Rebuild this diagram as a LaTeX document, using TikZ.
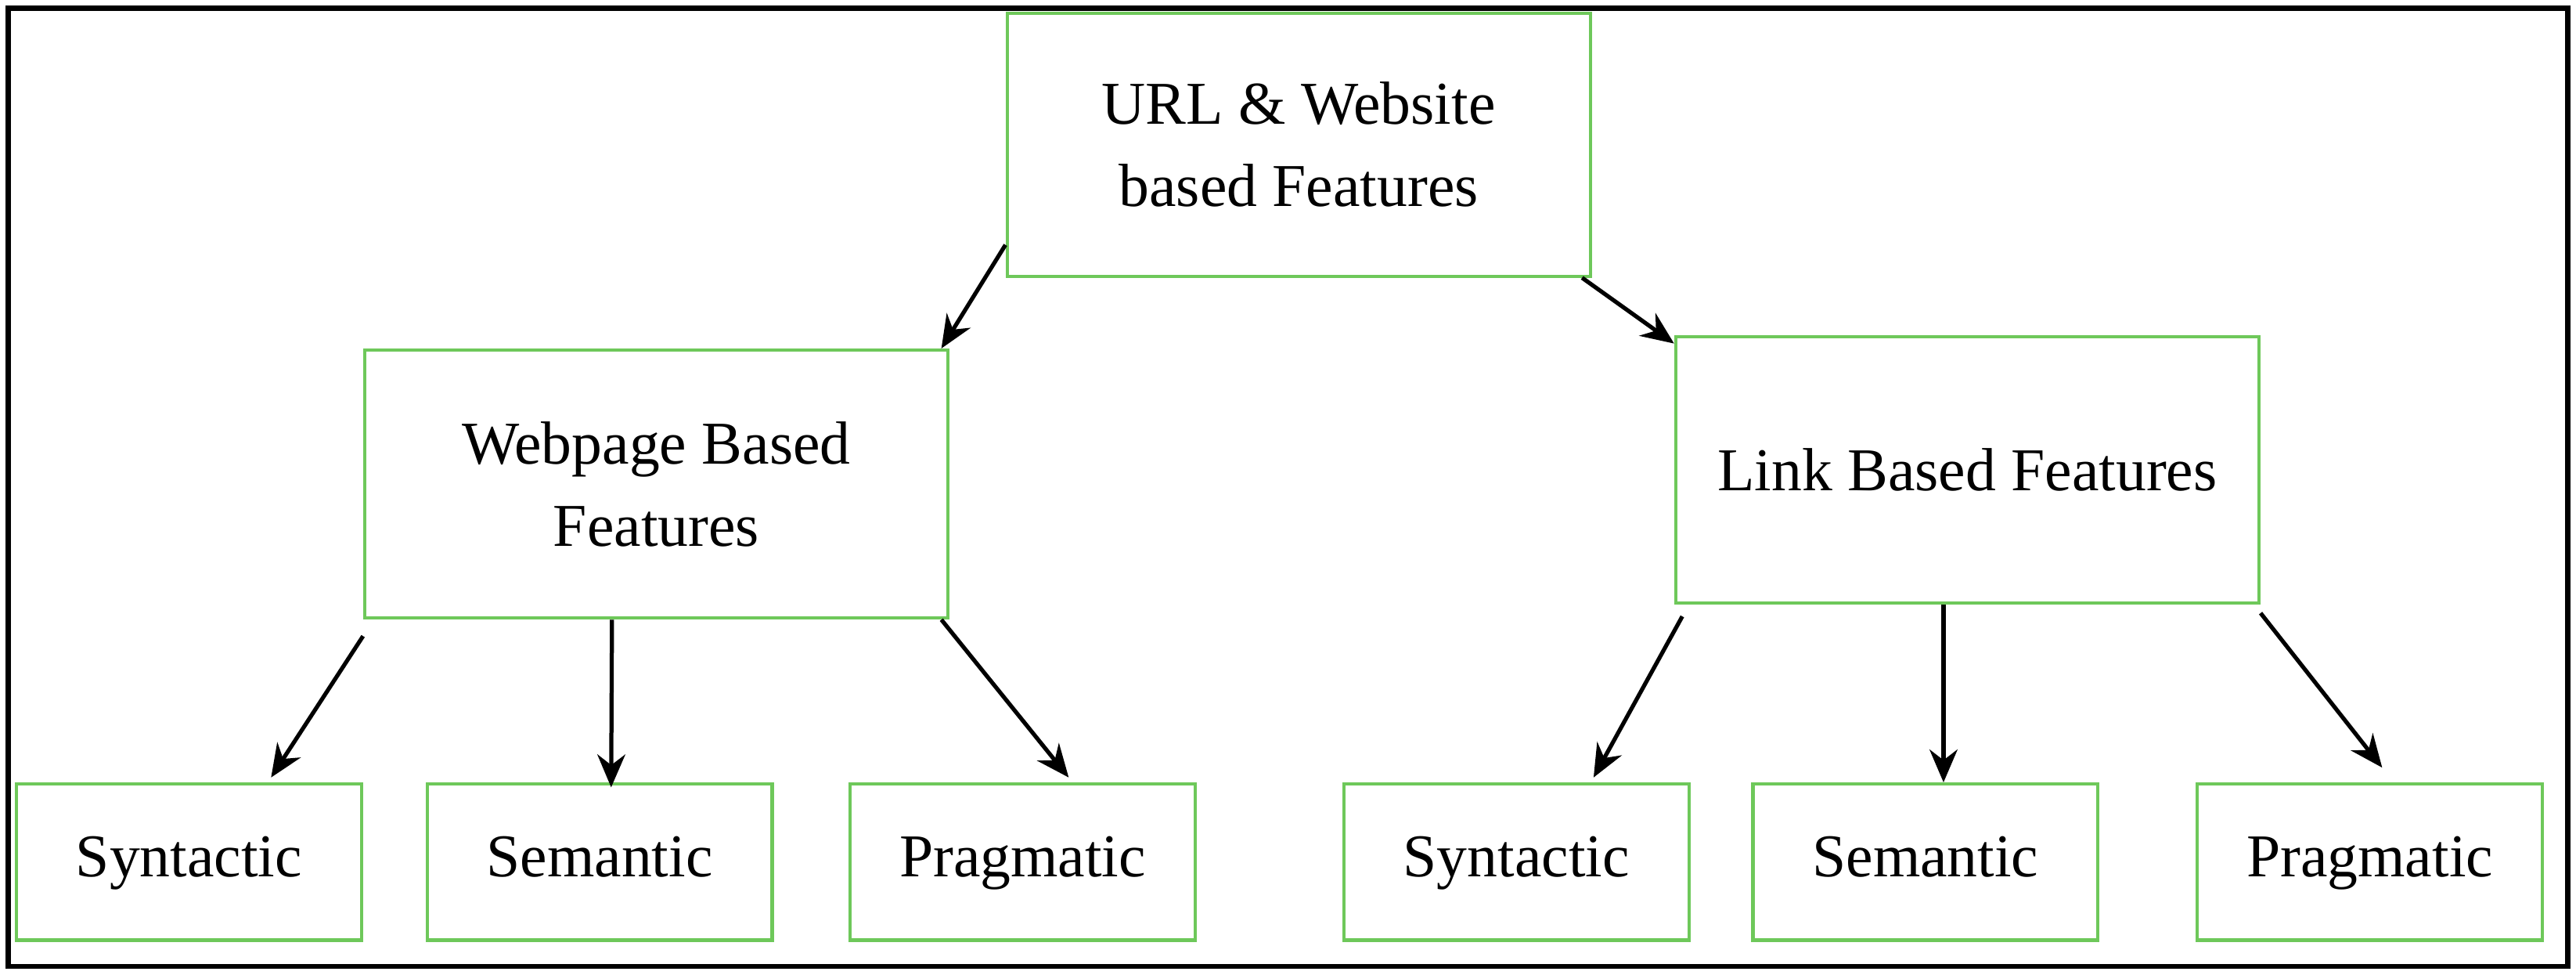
\documentclass[tikz,border=0pt]{standalone}
\usepackage{fontspec}
\setmainfont{Liberation Serif}
\usetikzlibrary{arrows.meta}
\tikzstyle{feature} = [rectangle, draw={rgb,255:red,110;green,200;blue,90}, line width=2pt, minimum width=355pt, text centered, align=center, font=\fontsize{37}{50}\selectfont]
\tikzstyle{leaf} = [rectangle, draw={rgb,255:red,110;green,200;blue,90}, line width=2pt, minimum width=210pt, minimum height=95pt, text height=27pt, text depth=9pt, text centered, font=\fontsize{37}{50}\selectfont]
\tikzstyle{arrow} = [line width=2.5pt,-{Stealth[length=20pt,width=17pt]}]

\begin{document}
\begin{tikzpicture}[x=1pt,y=-1pt]
\useasboundingbox (0,0) rectangle (1568,593);
\draw [line width=3pt] (5,5) rectangle (1563,588);

\node (top) [feature, minimum height=160pt] at (790.5,88) {URL \& Website\\based Features};
\node (web) [feature, minimum height=163pt] at (399.5,294.5) {Webpage Based\\Features};
\node (link) [feature, minimum height=162pt] at (1197.5,286) {Link Based Features};

\node (s1) [leaf] at (115,524.5) {Syntactic};
\node (m1) [leaf] at (365,524.5) {Semantic};
\node (p1) [leaf] at (622.5,524.5) {Pragmatic};
\node (s2) [leaf] at (923,524.5) {Syntactic};
\node (m2) [leaf] at (1172,524.5) {Semantic};
\node (p2) [leaf] at (1442.5,524.5) {Pragmatic};

\draw [arrow] ([yshift=20pt]top.south west) -- ([xshift=-5pt]web.north east);
\draw [arrow] ([xshift=-6pt]top.south east) -- ([yshift=-5pt]link.north west);
\draw [arrow] ([yshift=-10pt]web.south west) -- ([xshift=50pt,yshift=3pt]s1.north);
\draw [arrow] ([xshift=-27pt]web.south) -- ([xshift=7pt,yshift=-3pt]m1.north);
\draw [arrow] ([xshift=-5pt]web.south east) -- ([xshift=28pt,yshift=3pt]p1.north);
\draw [arrow] ([xshift=5pt,yshift=-7pt]link.south west) -- ([xshift=47pt,yshift=3pt]s2.north);
\draw [arrow] ([xshift=-14.5pt]link.south) -- ([xshift=11pt]m2.north);
\draw [arrow] ([yshift=-5pt]link.south east) -- ([xshift=7.5pt,yshift=9pt]p2.north);
\end{tikzpicture}
\end{document}
